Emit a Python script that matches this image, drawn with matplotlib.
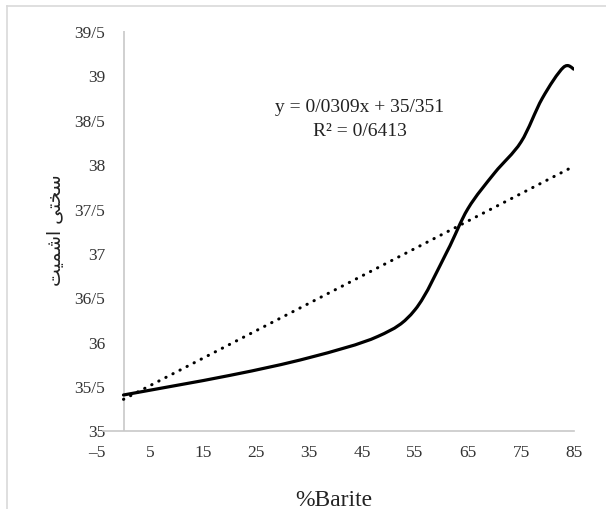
import matplotlib.pyplot as plt
from matplotlib.path import Path
from matplotlib.patches import PathPatch
from matplotlib.lines import Line2D

# points
barite = [0, 20, 35, 48, 55, 61, 65, 70, 75, 79, 83, 85]
hardness = [35.40, 35.62, 35.82, 36.06, 36.36, 37.01, 37.50, 37.90, 38.25, 38.74, 39.09, 39.07]

# linear trendline as printed on the chart
slope = 0.0309
intercept = 35.351
r2 = 0.6413

x_ticks = [-5, 5, 15, 25, 35, 45, 55, 65, 75, 85]
y_ticks = [35, 35.5, 36, 36.5, 37, 37.5, 38, 38.5, 39, 39.5]


def fa_num(v, digits=None):
    s = f'{v:g}' if digits is None else f'{v:.{digits}f}'
    return s.replace('.', '/').replace('-', '\u2013')


def excel_smooth(xs, ys):
    pts = list(zip(xs, ys))
    n = len(pts)
    verts = [pts[0]]
    codes = [Path.MOVETO]
    for i in range(n - 1):
        p0 = pts[max(i - 1, 0)]
        p1 = pts[i]
        p2 = pts[i + 1]
        p3 = pts[min(i + 2, n - 1)]
        c1 = (p1[0] + (p2[0] - p0[0]) / 6, p1[1] + (p2[1] - p0[1]) / 6)
        c2 = (p2[0] - (p3[0] - p1[0]) / 6, p2[1] - (p3[1] - p1[1]) / 6)
        verts += [c1, c2, p2]
        codes += [Path.CURVE4] * 3
    return Path(verts, codes)


plt.rcParams['font.family'] = ['Liberation Serif', 'DejaVu Sans']

fig = plt.figure(figsize=(6.06, 5.10), dpi=100)
ax = fig.add_axes([97 / 606, 1 - 431.5 / 510, 477 / 606, 399.5 / 510])

ax.add_patch(PathPatch(excel_smooth(barite, hardness), fill=False,
                       edgecolor='black', linewidth=2.3, capstyle='round'))

tx = [min(barite), max(barite)]
ax.plot(tx, [intercept + slope * v for v in tx], color='black',
        linestyle=(0, (0.1, 2.5)), linewidth=2.2, dash_capstyle='round')

ax.set_xlim(-5, 85)
ax.set_ylim(35, 39.5)
for s in ['top', 'right', 'left']:
    ax.spines[s].set_visible(False)
ax.spines['bottom'].set_color('#c8c8c8')
ax.spines['bottom'].set_linewidth(1.2)
ax.spines['bottom'].set_bounds(-3.9, 85)
ax.axvline(0, color='#c8c8c8', linewidth=1.2, zorder=0)

ax.set_xticks(x_ticks)
ax.set_xticklabels([fa_num(v) for v in x_ticks])
ax.set_yticks(y_ticks)
ax.set_yticklabels([fa_num(v) for v in y_ticks])
ax.tick_params(axis='x', length=0, pad=10, labelsize=12.5, labelcolor='#333333')
ax.tick_params(axis='y', length=0, pad=-6, labelsize=12.5, labelcolor='#333333')

ax.set_xlabel('%Barite', fontsize=17, color='#222222')
ax.xaxis.set_label_coords(0.497, 1 - (490 - 32) / 399.5)

# Persian label in presentation forms, visual order
ylab = '\uFE96\uFEF4\uFEE4\uFEB7\uFE8D \uFEF0\uFE98\uFEA8\uFEB3'
fig.text(55 / 606, 1 - 230 / 510, ylab, rotation=90, ha='center', va='center',
         fontsize=13.5, family=['DejaVu Sans'], color='#222222')

fig.text(360 / 606, 1 - 107 / 510,
         f'y = {fa_num(slope, 4)}x + {fa_num(intercept, 3)}',
         ha='center', va='center', fontsize=14, color='#222222')
fig.text(360 / 606, 1 - 132 / 510, f'R\u00b2 = {fa_num(r2, 4)}',
         ha='center', va='center', fontsize=14, color='#222222')

# chart area border (left and top visible)
fig.add_artist(Line2D([7 / 606, 7 / 606], [0, 1 - 7 / 510],
                      transform=fig.transFigure, color='#d9d9d9', linewidth=1.2))
fig.add_artist(Line2D([7 / 606, 1], [1 - 7 / 510, 1 - 7 / 510],
                      transform=fig.transFigure, color='#d9d9d9', linewidth=1.2))

fig.savefig('out.png', dpi=100)
